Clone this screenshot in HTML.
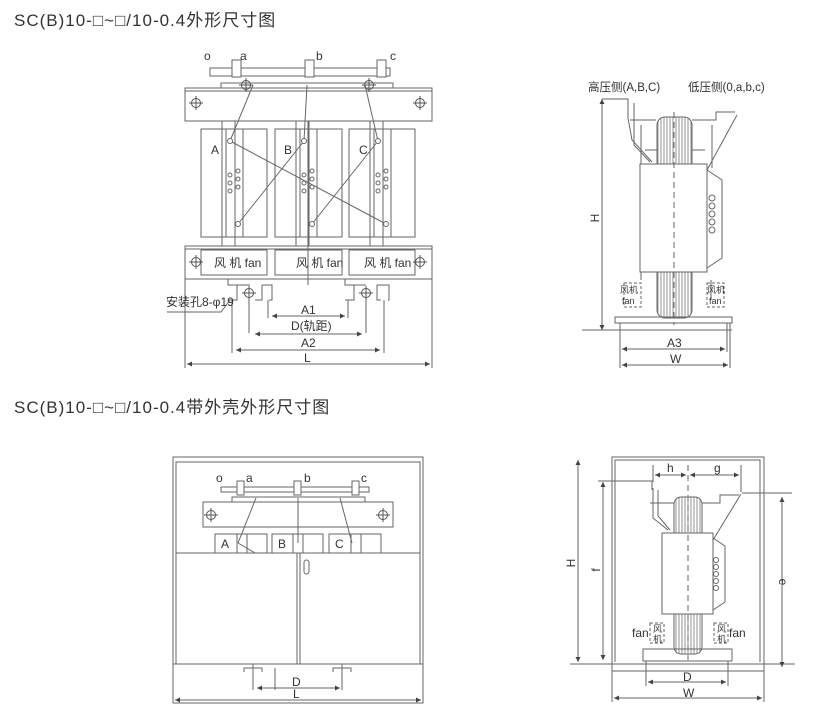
<!DOCTYPE html>
<html><head><meta charset="utf-8"><style>
html,body{margin:0;padding:0;background:#fff;}
svg{display:block;}
text{font-family:"Liberation Sans","Noto Sans CJK SC",sans-serif;fill:#333;}
</style></head><body>
<svg width="814" height="727" viewBox="0 0 814 727" xmlns="http://www.w3.org/2000/svg">
<defs>
<marker id="ar" viewBox="0 0 6 6" refX="6" refY="3" markerWidth="5" markerHeight="5" orient="auto-start-reverse"><path d="M0,0L6,3L0,6z" fill="#444"/></marker>
<g id="cc"><circle r="4.5" fill="none" stroke="#555"/><line x1="-7" y1="0" x2="7" y2="0" stroke="#555"/><line x1="0" y1="-7" x2="0" y2="7" stroke="#555"/></g>
<pattern id="st" width="3" height="4" patternUnits="userSpaceOnUse"><rect width="3" height="4" fill="#fff"/><line x1="1" y1="0" x2="1" y2="4" stroke="#777" stroke-width="0.8"/></pattern>
</defs>
<text x="14" y="26" font-size="17" letter-spacing="1">SC(B)10-□~□/10-0.4外形尺寸图</text>
<text x="14" y="413" font-size="17" letter-spacing="1">SC(B)10-□~□/10-0.4带外壳外形尺寸图</text>

<g fill="none" stroke="#666" stroke-width="1">
<!-- ===== Diagram 1 ===== -->
<rect x="210" y="68" width="180" height="8"/>
<rect x="232" y="60" width="9" height="17" fill="#fff"/>
<rect x="305" y="60" width="9" height="17" fill="#fff"/>
<rect x="377" y="60" width="9" height="17" fill="#fff"/>
<path d="M221,88V83H393V88"/>
<rect x="185" y="88" width="247" height="33"/>
<line x1="185" y1="91" x2="432" y2="91"/>
<rect x="201" y="129" width="25" height="108"/>
<rect x="226" y="129" width="17" height="108"/>
<rect x="243" y="129" width="24" height="108"/>
<rect x="275" y="129" width="25" height="108"/>
<rect x="300" y="129" width="17" height="108"/>
<rect x="317" y="129" width="25" height="108"/>
<rect x="349" y="129" width="25" height="108"/>
<rect x="374" y="129" width="17" height="108"/>
<rect x="391" y="129" width="24" height="108"/>
<line x1="222" y1="121" x2="222" y2="246"/><line x1="235" y1="121" x2="235" y2="246"/>
<line x1="296" y1="121" x2="296" y2="246"/><line x1="309" y1="121" x2="309" y2="246"/>
<line x1="370" y1="121" x2="370" y2="246"/><line x1="383" y1="121" x2="383" y2="246"/>
<line x1="230" y1="141" x2="386" y2="224"/>
<line x1="238" y1="224" x2="304" y2="141"/>
<line x1="312" y1="224" x2="378" y2="141"/>
<line x1="230" y1="141" x2="253" y2="85"/>
<line x1="304" y1="141" x2="307" y2="85"/>
<line x1="378" y1="141" x2="365" y2="85"/>
<circle cx="230" cy="141" r="2.5" fill="#fff"/><circle cx="304" cy="141" r="2.5" fill="#fff"/><circle cx="378" cy="141" r="2.5" fill="#fff"/>
<circle cx="238" cy="224" r="2.5" fill="#fff"/><circle cx="312" cy="224" r="2.5" fill="#fff"/><circle cx="386" cy="224" r="2.5" fill="#fff"/>
<g fill="#fff">
<circle cx="230" cy="175" r="2"/><circle cx="230" cy="183" r="2"/><circle cx="230" cy="191" r="2"/><circle cx="238" cy="171" r="2"/><circle cx="238" cy="179" r="2"/><circle cx="238" cy="187" r="2"/>
<circle cx="304" cy="175" r="2"/><circle cx="304" cy="183" r="2"/><circle cx="304" cy="191" r="2"/><circle cx="312" cy="171" r="2"/><circle cx="312" cy="179" r="2"/><circle cx="312" cy="187" r="2"/>
<circle cx="378" cy="175" r="2"/><circle cx="378" cy="183" r="2"/><circle cx="378" cy="191" r="2"/><circle cx="386" cy="171" r="2"/><circle cx="386" cy="179" r="2"/><circle cx="386" cy="187" r="2"/>
</g>
<rect x="185" y="246" width="247" height="33"/>
<line x1="185" y1="249" x2="432" y2="249"/>
<rect x="201" y="250" width="66" height="25"/>
<rect x="275" y="250" width="67" height="25"/>
<rect x="349" y="250" width="66" height="25"/>
<line x1="308" y1="121" x2="308" y2="285"/>
<path d="M228,279V285H237V300H229M237,285H250M262,285V300H255M262,285H272V300H269"/>
<path d="M345,279V285H354V300H345M354,285H366M377,285V300H381M377,285H389V300H388"/>
<line x1="249" y1="287" x2="249" y2="300"/><line x1="366" y1="287" x2="366" y2="300"/>
<line x1="185" y1="279" x2="185" y2="368"/><line x1="432" y1="279" x2="432" y2="368"/>
<line x1="268" y1="300" x2="268" y2="318"/><line x1="348" y1="300" x2="348" y2="318"/>
<line x1="249" y1="300" x2="249" y2="333"/><line x1="366" y1="300" x2="366" y2="333"/>
<line x1="232" y1="300" x2="232" y2="353"/><line x1="384" y1="300" x2="384" y2="353"/>
<line x1="272" y1="316" x2="345" y2="316" marker-start="url(#ar)" marker-end="url(#ar)"/>
<line x1="255" y1="334" x2="362" y2="334" marker-start="url(#ar)" marker-end="url(#ar)"/>
<line x1="236" y1="350" x2="380" y2="350" marker-start="url(#ar)" marker-end="url(#ar)"/>
<line x1="187" y1="364" x2="430" y2="364" marker-start="url(#ar)" marker-end="url(#ar)"/>
<path d="M167,312H221L230,300"/>

<!-- ===== Diagram 2 ===== -->
<line x1="602" y1="99" x2="602" y2="330" marker-start="url(#ar)" marker-end="url(#ar)"/>
<path d="M602,99H628V118L632,140L652,162"/>
<path d="M634,103V145L650,162"/>
<path d="M630,120H656M692,120H716V112H735"/>
<rect x="657" y="117" width="35" height="201" rx="8" fill="url(#st)"/>
<path d="M641,125V168M641,200V280M712,125V168M711,280V300"/>
<line x1="645" y1="150" x2="657" y2="150"/><line x1="692" y1="150" x2="705" y2="150"/>
<rect x="640" y="164" width="67" height="108" fill="#fff"/>
<path d="M707,170L722,180V258L707,268"/>
<g fill="#fff"><circle cx="712" cy="198" r="3"/><circle cx="712" cy="206" r="3"/><circle cx="712" cy="214" r="3"/><circle cx="712" cy="222" r="3"/><circle cx="712" cy="230" r="3"/></g>
<line x1="707" y1="170" x2="737" y2="115"/>
<rect x="615" y="317" width="117" height="6"/>
<line x1="582" y1="330" x2="732" y2="330"/>
<line x1="620" y1="323" x2="620" y2="368"/><line x1="730" y1="323" x2="730" y2="368"/>
<line x1="727" y1="323" x2="727" y2="352"/>
<line x1="622" y1="349" x2="725" y2="349" marker-start="url(#ar)" marker-end="url(#ar)"/>
<line x1="622" y1="365" x2="728" y2="365" marker-start="url(#ar)" marker-end="url(#ar)"/>
<rect x="624" y="283" width="17" height="24" stroke-dasharray="3,2"/>
<rect x="707" y="283" width="17" height="24" stroke-dasharray="3,2"/>
<line x1="674" y1="112" x2="674" y2="325" stroke-dasharray="6,4"/>

<!-- ===== Diagram 3 ===== -->
<rect x="173" y="457" width="250" height="246"/>
<path d="M176,664V462H420V664"/>
<line x1="176" y1="553" x2="420" y2="553"/>
<line x1="173" y1="664" x2="423" y2="664"/>
<rect x="221" y="487" width="148" height="5"/>
<rect x="237" y="481" width="7" height="14" fill="#fff"/>
<rect x="294" y="481" width="7" height="14" fill="#fff"/>
<rect x="352" y="481" width="7" height="14" fill="#fff"/>
<path d="M232,502V497H365V502"/>
<rect x="203" y="502" width="190" height="25"/>
<rect x="215" y="534" width="22" height="19"/><rect x="237" y="534" width="10" height="19"/><rect x="247" y="534" width="20" height="19"/>
<rect x="272" y="534" width="21" height="19"/><rect x="293" y="534" width="10" height="19"/><rect x="303" y="534" width="20" height="19"/>
<rect x="329" y="534" width="22" height="19"/><rect x="351" y="534" width="10" height="19"/><rect x="361" y="534" width="20" height="19"/>
<line x1="238" y1="543" x2="256" y2="498"/><line x1="298" y1="543" x2="298" y2="498"/><line x1="352" y1="543" x2="340" y2="498"/>
<line x1="238" y1="543" x2="255" y2="553"/>
<line x1="297" y1="553" x2="297" y2="664"/><line x1="300" y1="553" x2="300" y2="664"/>
<rect x="304" y="560" width="5" height="14" rx="2.5"/>
<path d="M244,672V668H262V672M253,664V690M275,690V668"/>
<path d="M333,672V668H351V672M342,664V690"/>
<line x1="257" y1="688" x2="340" y2="688" marker-start="url(#ar)" marker-end="url(#ar)"/>
<line x1="175" y1="700" x2="421" y2="700" marker-start="url(#ar)" marker-end="url(#ar)"/>

<!-- ===== Diagram 4 ===== -->
<rect x="612" y="457" width="152" height="214"/>
<path d="M615,662V460H760V662"/>
<line x1="570" y1="664" x2="795" y2="664"/>
<line x1="578" y1="460" x2="578" y2="662" marker-start="url(#ar)" marker-end="url(#ar)"/>
<path d="M598,481H652V490"/>
<line x1="603" y1="482" x2="603" y2="660" marker-start="url(#ar)" marker-end="url(#ar)"/>
<path d="M742,493H792"/>
<line x1="782" y1="497" x2="782" y2="667" marker-start="url(#ar)" marker-end="url(#ar)"/>
<line x1="653" y1="465" x2="653" y2="482"/><line x1="741" y1="465" x2="741" y2="492"/>
<line x1="655" y1="475" x2="686" y2="475" marker-start="url(#ar)" marker-end="url(#ar)"/>
<line x1="690" y1="475" x2="739" y2="475" marker-start="url(#ar)" marker-end="url(#ar)"/>
<path d="M653,488V518L668,530M658,490V516L670,530"/>
<path d="M650,503H674M702,503H720V495H739"/>
<rect x="674" y="497" width="28" height="157" rx="7" fill="url(#st)"/>
<rect x="662" y="533" width="51" height="81" fill="#fff"/>
<path d="M713,538L725,546V602L713,610"/>
<line x1="713" y1="540" x2="741" y2="494"/>
<g fill="#fff"><circle cx="716" cy="560" r="2.5"/><circle cx="716" cy="567" r="2.5"/><circle cx="716" cy="574" r="2.5"/><circle cx="716" cy="581" r="2.5"/><circle cx="716" cy="588" r="2.5"/></g>
<rect x="650" y="623" width="14" height="20" stroke-dasharray="3,2"/>
<rect x="714" y="623" width="14" height="20" stroke-dasharray="3,2"/>
<rect x="643" y="649" width="89" height="12"/>
<line x1="646" y1="661" x2="646" y2="686"/><line x1="728" y1="661" x2="728" y2="686"/>
<line x1="612" y1="671" x2="612" y2="702"/><line x1="764" y1="671" x2="764" y2="702"/>
<line x1="648" y1="682" x2="726" y2="682" marker-start="url(#ar)" marker-end="url(#ar)"/>
<line x1="614" y1="698" x2="762" y2="698" marker-start="url(#ar)" marker-end="url(#ar)"/>
<line x1="688" y1="465" x2="688" y2="660" stroke-dasharray="6,4"/>
</g>
<use href="#cc" x="196" y="103"/><use href="#cc" x="420" y="103"/>
<use href="#cc" x="196" y="262"/><use href="#cc" x="420" y="262"/>
<use href="#cc" x="211" y="515"/><use href="#cc" x="383" y="515"/>
<use href="#cc" x="246" y="85"/><use href="#cc" x="369" y="85"/>
<use href="#cc" x="249" y="293"/><use href="#cc" x="366" y="293"/>

<g font-size="12">
<text x="204" y="60">o</text><text x="240" y="60">a</text><text x="316" y="60">b</text><text x="390" y="60">c</text>
<text x="211" y="154">A</text><text x="284" y="154">B</text><text x="359" y="154">C</text>
<text x="214" y="267">风 机 fan</text><text x="296" y="267">风 机 fan</text><text x="364" y="267">风 机 fan</text>
<text x="166" y="306">安装孔8-φ19</text>
<text x="301" y="314">A1</text><text x="291" y="330">D(轨距)</text><text x="301" y="347">A2</text><text x="304" y="362">L</text>
<text x="588" y="91" font-size="11.5">高压侧(A,B,C)</text><text x="688" y="91" font-size="11.5">低压侧(0,a,b,c)</text>
<text x="667" y="347">A3</text><text x="670" y="363">W</text>
<text x="599" y="218" transform="rotate(-90 599 218)" text-anchor="middle">H</text>
<text x="620" y="293" font-size="9">风机</text><text x="622" y="304" font-size="9">fan</text>
<text x="707" y="293" font-size="9">风机</text><text x="709" y="304" font-size="9">fan</text>
<text x="216" y="482">o</text><text x="246" y="482">a</text><text x="304" y="482">b</text><text x="361" y="482">c</text>
<text x="221" y="548">A</text><text x="278" y="548">B</text><text x="335" y="548">C</text>
<text x="292" y="686">D</text><text x="293" y="698">L</text>
<text x="667" y="472">h</text><text x="714" y="472">g</text>
<text x="575" y="563" transform="rotate(-90 575 563)" text-anchor="middle">H</text>
<text x="600" y="570" transform="rotate(-90 600 570)" text-anchor="middle">f</text>
<text x="779" y="582" transform="rotate(90 779 582)" text-anchor="middle">e</text>
<text x="683" y="681">D</text><text x="683" y="697">W</text>
<text x="632" y="637">fan</text><text x="729" y="637">fan</text>
<text x="653" y="632" font-size="9">风</text><text x="653" y="642" font-size="9">机</text>
<text x="717" y="632" font-size="9">风</text><text x="717" y="642" font-size="9">机</text>
</g>
</svg>
</body></html>
